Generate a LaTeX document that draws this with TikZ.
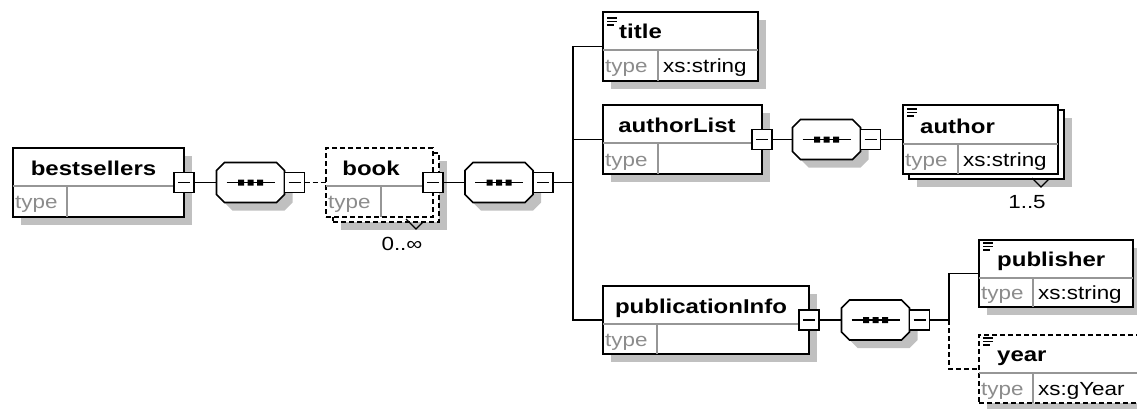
\documentclass[tikz,border=0pt]{standalone}
\usepackage{fontspec}
\newfontfamily\xsdfont{Liberation Sans}[FakeStretch=1.18]
\newfontfamily\xsdbold{Liberation Sans}[FakeStretch=1.2]
\usetikzlibrary{shadows}

\definecolor{shadowgray}{RGB}{192,192,192}
\definecolor{rulegray}{RGB}{150,150,150}
\definecolor{typegray}{RGB}{140,140,140}

\tikzset{
  conn/.style={line width=1.8pt},
  elbox/.style={rectangle, draw, line width=1.8pt, fill=white, inner sep=0pt, outer sep=0pt, anchor=north west},
  optbox/.style={elbox, dash pattern=on 5pt off 3pt},
  shadowed/.style={drop shadow={shadow xshift=8pt, shadow yshift=-8pt, fill=shadowgray, opacity=1}},
  pm/.style={rectangle, draw, line width=1.6pt, fill=white, minimum size=20pt, inner sep=0pt, outer sep=0pt,
    path picture={\draw[line width=1.5pt] ([xshift=-6pt]path picture bounding box.center) -- ([xshift=6pt]path picture bounding box.center);}},
  seqnode/.style={rectangle, minimum width=68pt, minimum height=40pt, inner sep=0pt, outer sep=0pt},
  seqsym/.pic={
    \fill[shadowgray, shift={(8,8)}] (-26,-20) -- (26,-20) -- (34,-12) -- (34,12) -- (26,20) -- (-26,20) -- (-34,12) -- (-34,-12) -- cycle;
    \draw[line width=1.6pt, fill=white] (-26,-20) -- (26,-20) -- (34,-12) -- (34,12) -- (26,20) -- (-26,20) -- (-34,12) -- (-34,-12) -- cycle;
    \draw[line width=1.5pt] (-24,0) -- (24,0);
    \fill (-12.5,-3) rectangle (-6.5,3) (-3,-3) rectangle (3,3) (6.5,-3) rectangle (12.5,3);
  },
  divider/.style={draw=rulegray, line width=1.5pt},
  nametxt/.style={font=\xsdbold\bfseries\fontsize{20}{22}\selectfont, inner sep=0pt},
  typetxt/.style={font=\xsdfont\fontsize{19}{21}\selectfont, inner sep=0pt, text=typegray, anchor=base west},
  valtxt/.style={font=\xsdfont\fontsize{19}{21}\selectfont, inner sep=0pt, anchor=base west},
  cardtxt/.style={font=\xsdfont\fontsize{19}{21}\selectfont, inner sep=0pt, anchor=base},
  simpleicon/.pic={\draw[line width=1.4pt] (0,0)--(10,0) (0,3.5)--(10,3.5) (0,7)--(7,7);}
}

\begin{document}
\begin{tikzpicture}[x=1pt,y=-1pt]
\useasboundingbox (0,0) rectangle (1137,408);
\clip (0,0) rectangle (1137,408);

% root element
\node[elbox, shadowed, minimum width=171pt, minimum height=69pt] (bestsellers) at (13,148) {};
\draw[divider] (13,186) -- (184,186) (67,186) -- (67,217);
\node[nametxt, anchor=base] at (93.5,175) {bestsellers};
\node[typetxt] at (15,208) {type};
\node[pm] (bestsellers-pm) at (bestsellers.east) {};

% first sequence
\node[seqnode] (seq1) at (250.5,182.5) {};
\pic at (seq1.center) {seqsym};
\node[pm, anchor=west] (seq1-pm) at (seq1.east) {};

% book (optional, repeating)
\node[optbox, shadowed, minimum width=106pt, minimum height=69pt] (book-back) at (333,153) {};
\node[optbox, minimum width=107pt, minimum height=69pt] (book) at (326,148) {};
\draw[divider] (326,186) -- (433,186) (381,186) -- (381,217);
\node[nametxt, anchor=base] at (371,175) {book};
\node[typetxt] at (328,208) {type};
\node[pm] (book-pm) at (book.east) {};
\draw[line width=1.2pt] (406,219) -- (416,229) -- (423,222);
\node[cardtxt] at (402,250) {0..∞};

% second sequence
\node[seqnode] (seq2) at (499,182.5) {};
\pic at (seq2.center) {seqsym};
\node[pm, anchor=west] (seq2-pm) at (seq2.east) {};
\coordinate (bus2) at (573,182.5);

% title
\node[elbox, shadowed, minimum width=155pt, minimum height=69pt] (title) at (603,12) {};
\draw[divider] (603,50) -- (758,50) (658,50) -- (658,81);
\pic at (607,18) {simpleicon};
\node[nametxt, anchor=base west] at (619,38) {title};
\node[typetxt] at (605,72) {type};
\node[valtxt] at (663,72) {xs:string};

% authorList
\node[elbox, shadowed, minimum width=159pt, minimum height=69pt] (authorList) at (603,105) {};
\draw[divider] (603,143) -- (762,143) (658,143) -- (658,174);
\node[nametxt, anchor=base] at (677,132) {authorList};
\node[typetxt] at (605,166) {type};
\node[pm] (authorList-pm) at (authorList.east) {};

% third sequence
\node[seqnode] (seq3) at (826.5,139.5) {};
\pic at (seq3.center) {seqsym};
\node[pm, anchor=west] (seq3-pm) at (seq3.east) {};

% author (repeating)
\node[elbox, shadowed, minimum width=155pt, minimum height=69pt] (author-back) at (909,110) {};
\node[elbox, minimum width=155pt, minimum height=69pt] (author) at (903,105) {};
\draw[divider] (903,144) -- (1058,144) (958,144) -- (958,174);
\pic at (907,109) {simpleicon};
\node[nametxt, anchor=base west] at (920,133) {author};
\node[typetxt] at (905,166) {type};
\node[valtxt] at (963,166) {xs:string};
\draw[line width=1.2pt] (1032,178) -- (1041,187) -- (1049,179);
\node[cardtxt] at (1027,208) {1..5};

% publicationInfo
\node[elbox, shadowed, minimum width=206pt, minimum height=68pt] (publicationInfo) at (603,286) {};
\draw[divider] (603,324) -- (809,324) (657,324) -- (657,354);
\node[nametxt, anchor=base] at (701,313) {publicationInfo};
\node[typetxt] at (605,346) {type};
\node[pm] (publicationInfo-pm) at (publicationInfo.east) {};

% fourth sequence
\node[seqnode] (seq4) at (875.5,320) {};
\pic at (seq4.center) {seqsym};
\node[pm, anchor=west] (seq4-pm) at (seq4.east) {};
\coordinate (bus4) at (949,320);

% publisher
\node[elbox, shadowed, minimum width=154pt, minimum height=67pt] (publisher) at (979,240) {};
\draw[divider] (979,278) -- (1133,278) (1033,278) -- (1033,307);
\pic at (983,243) {simpleicon};
\node[nametxt, anchor=base west] at (997,266) {publisher};
\node[typetxt] at (981,299) {type};
\node[valtxt] at (1038,299) {xs:string};

% year (optional)
\node[optbox, shadowed, minimum width=175pt, minimum height=68pt] (year) at (979,335) {};
\draw[divider] (979,373) -- (1154,373) (1033,373) -- (1033,403);
\pic at (983,338) {simpleicon};
\node[nametxt, anchor=base west] at (997,361) {year};
\node[typetxt] at (981,395) {type};
\node[valtxt] at (1038,395) {xs:gYear};

% connectors
\draw[conn] (bestsellers-pm.east) -- (seq1.west);
\draw[conn, dash pattern=on 5pt off 3pt] (seq1-pm.east) -- (book.west);
\draw[conn] (book-pm.east) -- (seq2.west);
\draw[conn] (seq2-pm.east) -- (bus2);
\draw[conn] (title.west) -| (bus2);
\draw[conn] (authorList.west) -- (authorList.west -| bus2);
\draw[conn] (publicationInfo.west) -| (bus2);
\draw[conn] (authorList-pm.east) -- (seq3.west);
\draw[conn] (seq3-pm.east) -- (author.west);
\draw[conn] (publicationInfo-pm.east) -- (seq4.west);
\draw[conn] (seq4-pm.east) -- (bus4);
\draw[conn] (bus4) |- (publisher.west);
\draw[conn, dash pattern=on 5pt off 3pt] (bus4) |- (year.west);
\end{tikzpicture}
\end{document}
